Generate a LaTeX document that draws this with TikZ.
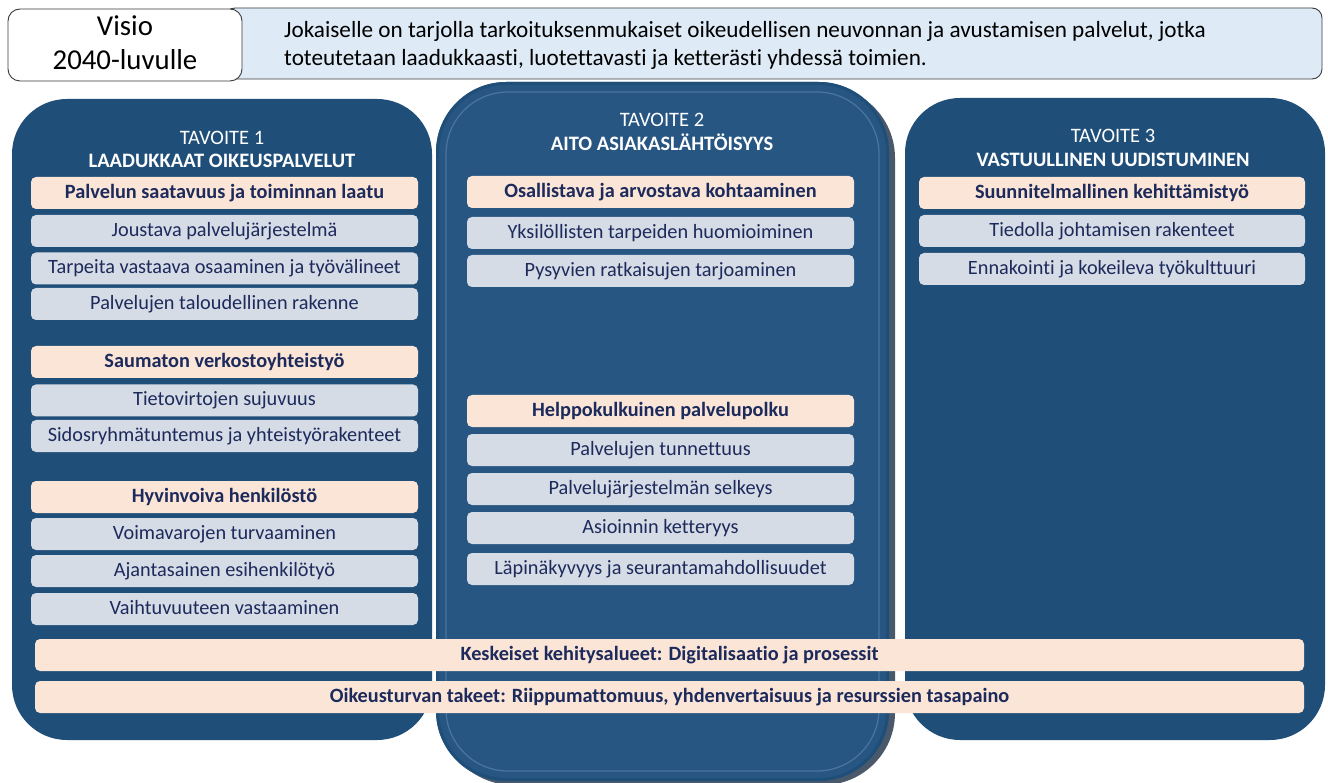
\documentclass[tikz,border=0pt]{standalone}
\usepackage{fontspec}
\setmainfont[Ligatures={NoCommon}]{Carlito}
\definecolor{panel}{HTML}{1F4E79}
\definecolor{panelmid}{HTML}{285683}
\definecolor{panelrim}{HTML}{4C74A0}
\definecolor{panelshade}{HTML}{0E2238}
\definecolor{itembg}{HTML}{D6DCE5}
\definecolor{headbg}{HTML}{FBE5D6}
\definecolor{ink}{HTML}{1C2A5C}
\definecolor{visionbg}{HTML}{DEEBF7}
\definecolor{frame}{HTML}{3A3A3A}
\tikzset{
  itembox/.style={rounded corners=5pt, fill=itembg, text=ink, inner sep=0pt,
    text height=14.5pt, text depth=3.5pt,
    minimum height=32pt, font=\fontsize{20.3}{24}\selectfont},
  headbox/.style={itembox, fill=headbg, font=\fontsize{20.3}{24}\selectfont\bfseries},
  colL/.style={minimum width=387pt},
  colM/.style={minimum width=387pt},
  colR/.style={minimum width=386pt},
  titletext/.style={text=white, inner sep=0pt, text height=14.5pt, text depth=3.5pt,
    font=\fontsize{20.5}{24}\selectfont},
  titlebold/.style={titletext, font=\fontsize{20.5}{24}\selectfont\bfseries},
  panelbox/.style={fill=panel, rounded corners=55pt},
  visiontext/.style={anchor=west, inner sep=0pt, text=black, text height=16pt, text depth=4pt,
    font=\fontsize{23.2}{26}\selectfont},
  visiolabel/.style={inner sep=0pt, text height=20pt, text depth=5pt,
    font=\fontsize{28.8}{32}\selectfont, text=black},
}
\begin{document}
\begin{tikzpicture}[x=1pt,y=-1pt]
\useasboundingbox (0,0) rectangle (1328,783);
\fill[white] (0,0) rectangle (1328,783);

% vision banner
\draw[frame, line width=0.9pt, fill=visionbg, rounded corners=10pt] (225,8) rectangle (1322,79);
\draw[frame, line width=0.9pt, fill=white, rounded corners=12pt] (8,9) rectangle (242,81);
\node[visiolabel] (visio1) at (125,28) {Visio};
\node[visiolabel] (visio2) at (125,62) {2040-luvulle};
\node[visiontext] (vis1) at (284,32)
  {Jokaiselle on tarjolla tarkoituksenmukaiset oikeudellisen neuvonnan ja avustamisen palvelut, jotka};
\node[visiontext] (vis2) at (284,60)
  {toteutetaan laadukkaasti, luotettavasti ja ketterästi yhdessä toimien.};

% side panels
\fill[panelbox] (12,99) rectangle (432,740);
\fill[panelbox] (905,98) rectangle (1325,740);

% middle panel with shadow and bevel rim
\fill[panelshade, opacity=0.75, rounded corners=72pt] (441,86) rectangle (895,785);
\fill[panelmid, rounded corners=70pt] (436,82) rectangle (889,781);
\draw[panelrim, line width=1.2pt, rounded corners=62pt] (446,92) rectangle (879,771);
\draw[panel, line width=3pt, rounded corners=69pt] (437.5,83.5) rectangle (887.5,779.5);

% titles
\node[titletext] (t1a) at (222,139) {TAVOITE 1};
\node[titlebold] (t1b) at (222,162) {LAADUKKAAT OIKEUSPALVELUT};
\node[titletext] (t2a) at (662,121) {TAVOITE 2};
\node[titlebold] (t2b) at (662,145) {AITO ASIAKASLÄHTÖISYYS};
\node[titletext] (t3a) at (1113,137) {TAVOITE 3};
\node[titlebold] (t3b) at (1113,161) {VASTUULLINEN UUDISTUMINEN};

% goal 1
\node[headbox, colL] (lh1) at (224.5,193) {Palvelun saatavuus ja toiminnan laatu};
\node[itembox, colL] (l1) at (224.5,231) {Joustava palvelujärjestelmä};
\node[itembox, colL] (l2) at (224.5,268.5) {Tarpeita vastaava osaaminen ja työvälineet};
\node[itembox, colL] (l3) at (224.5,304) {Palvelujen taloudellinen rakenne};
\node[headbox, colL] (lh2) at (224.5,362) {Saumaton verkostoyhteistyö};
\node[itembox, colL] (l4) at (224.5,400.5) {Tietovirtojen sujuvuus};
\node[itembox, colL] (l5) at (224.5,436) {Sidosryhmätuntemus ja yhteistyörakenteet};
\node[headbox, colL] (lh3) at (224.5,497) {Hyvinvoiva henkilöstö};
\node[itembox, colL] (l6) at (224.5,534) {Voimavarojen turvaaminen};
\node[itembox, colL] (l7) at (224.5,571) {Ajantasainen esihenkilötyö};
\node[itembox, colL] (l8) at (224.5,609) {Vaihtuvuuteen vastaaminen};

% goal 2
\node[headbox, colM] (mh1) at (660.5,192) {Osallistava ja arvostava kohtaaminen};
\node[itembox, colM] (m1) at (660.5,233) {Yksilöllisten tarpeiden huomioiminen};
\node[itembox, colM] (m2) at (660.5,271) {Pysyvien ratkaisujen tarjoaminen};
\node[headbox, colM] (mh2) at (660.5,411) {Helppokulkuinen palvelupolku};
\node[itembox, colM] (m3) at (660.5,450) {Palvelujen tunnettuus};
\node[itembox, colM] (m4) at (660.5,489) {Palvelujärjestelmän selkeys};
\node[itembox, colM] (m5) at (660.5,528) {Asioinnin ketteryys};
\node[itembox, colM] (m6) at (660.5,569) {Läpinäkyvyys ja seurantamahdollisuudet};

% goal 3
\node[headbox, colR] (rh1) at (1112,193) {Suunnitelmallinen kehittämistyö};
\node[itembox, colR] (r1) at (1112,231) {Tiedolla johtamisen rakenteet};
\node[itembox, colR] (r2) at (1112,269) {Ennakointi ja kokeileva työkulttuuri};

% shared bars
\node[headbox, minimum width=1269pt] (bar1) at (669.5,655) {Keskeiset kehitysalueet: Digitalisaatio ja prosessit};
\node[headbox, minimum width=1269pt] (bar2) at (669.5,697) {Oikeusturvan takeet: Riippumattomuus, yhdenvertaisuus ja resurssien tasapaino};
\end{tikzpicture}
\end{document}
